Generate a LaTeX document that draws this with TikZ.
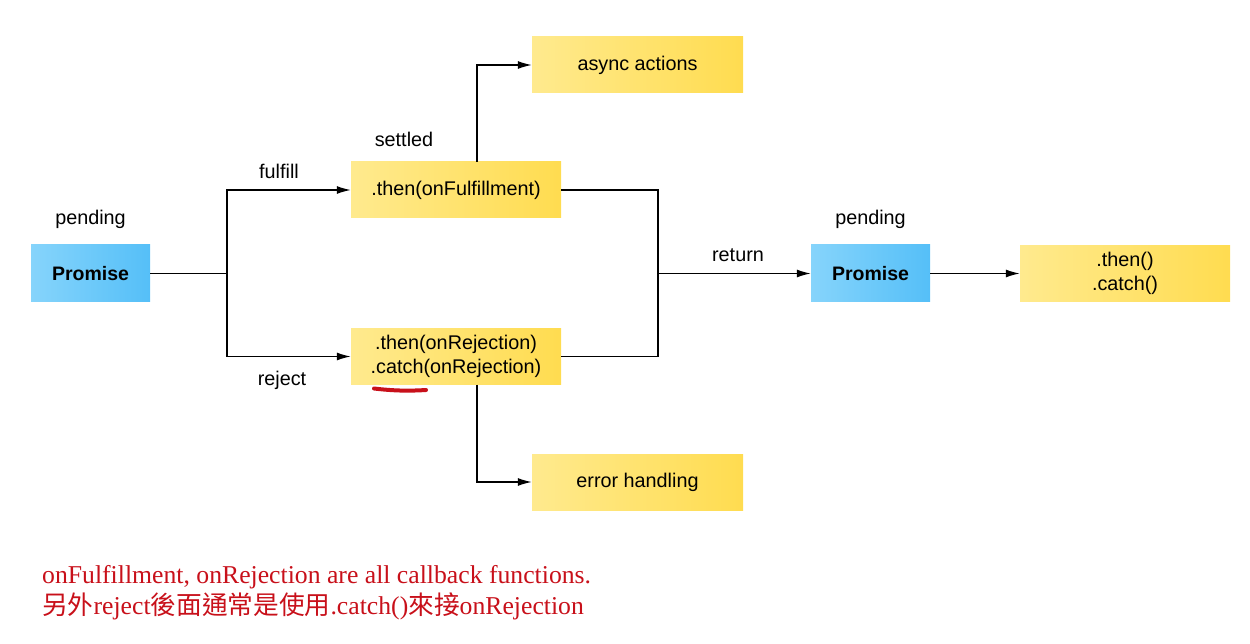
\documentclass[tikz,border=0pt]{standalone}
\usepackage{fontspec}
\setmainfont{Liberation Sans}
\newfontfamily\serifred{Liberation Serif}
\newfontfamily\cjk{Noto Sans CJK TC}
\usetikzlibrary{arrows.meta}
\definecolor{bluetop}{HTML}{86D4FB}
\definecolor{bluebot}{HTML}{55BFF8}
\definecolor{yeltop}{HTML}{FFEA8E}
\definecolor{yelbot}{HTML}{FFDC50}
\definecolor{notered}{HTML}{C8101A}
\tikzset{
  promisebox/.style={minimum width=119pt, minimum height=57pt, inner sep=0pt,
    left color=bluetop, right color=bluebot, font=\fontsize{19.5}{22}\selectfont\bfseries},
  methodbox/.style={minimum width=210pt, minimum height=56pt, inner sep=0pt, align=center,
    left color=yeltop, right color=yelbot, font=\fontsize{19.8}{24}\selectfont},
  lbl/.style={inner sep=0pt, font=\fontsize{19.8}{22}\selectfont},
  conn/.style={line width=1.3pt, black},
  arr/.style={conn, -{Latex[length=14pt,width=8pt]}}
}
\begin{document}
\begin{tikzpicture}[x=1pt,y=-1pt]
\useasboundingbox (0,0) rectangle (1250,644);
\node[promisebox] (p1) at (90.5,273.5) {Promise};
\node[methodbox] (ful) at (456,190) {.then(onFulfillment)};
\node[methodbox] (rej) at (456,356.5) {.then(onRejection)\\.catch(onRejection)};
\node[methodbox, minimum width=211pt] (async) at (637.5,65) {async actions};
\node[methodbox, minimum width=211pt] (err) at (637.5,482) {error handling};
\node[promisebox] (p2) at (870.5,273.5) {Promise};
\node[methodbox] (tc) at (1125,273.5) {.then()\\.catch()};

\node[lbl] (pend1) at (90.5,219) {pending};
\node[lbl] (fulfill) at (279,171) {fulfill};
\node[lbl] (reject) at (282,380) {reject};
\node[lbl] (settled) at (404,139) {settled};
\node[lbl] (ret) at (738,255) {return};
\node[lbl] (pend2) at (870.5,219) {pending};

\coordinate (split) at (227,273.5);
\coordinate (merge) at (658,273.5);
\draw[conn] (p1.east) -- (split);
\draw[arr] (split) |- (ful.west);
\draw[arr] (split) |- (rej.west);
\draw[arr] (ful.north -| 477,0) |- (async.west);
\draw[arr] (rej.south -| 477,0) |- (err.west);
\draw[conn] (ful.east) -| (merge);
\draw[conn] (rej.east) -| (merge);
\draw[arr] (merge) -- (p2.west);
\draw[arr] (p2.east) -- (tc.west);

\draw[notered, line width=4pt, line cap=round] (374,388.5) .. controls (395,391) and (410,391) .. (426,390);

\node[anchor=west, inner sep=0pt, text=notered, font=\serifred\fontsize{25.7}{28}\selectfont] (note1) at (42,577) {onFulfillment, onRejection are all callback functions.};
\node[anchor=west, inner sep=0pt, text=notered, font=\serifred\fontsize{25.7}{28}\selectfont] (note2) at (42,606) {{\cjk 另外}reject{\cjk 後面通常是使用}.catch(){\cjk 來接}onRejection};
\end{tikzpicture}
\end{document}
